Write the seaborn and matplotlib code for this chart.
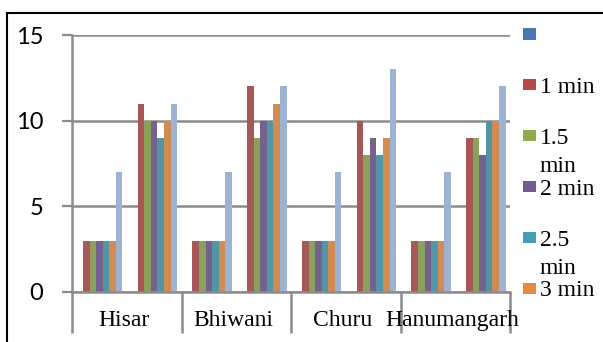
import matplotlib
matplotlib.use("Agg")
import matplotlib.pyplot as plt
import matplotlib.transforms as mtransforms
from matplotlib.patches import Rectangle
import seaborn as sns
import pandas as pd

# ---------------- data ----------------
categories = ["Hisar", "Bhiwani", "Churu", "Hanumangarh"]
slots = [0, 1, 2, 3, 4, 5, 6, 7]          # two sub-groups per category
series_ids = ["s0", "1 min", "1.5 min", "2 min", "2.5 min", "3 min", "s6"]
legend_labels = ["", "1 min", "1.5\nmin", "2 min", "2.5\nmin", "3 min"]
s0 = [0, 0, 0, 0, 0, 0, 0, 0]
s1 = [3, 11, 3, 12, 3, 10, 3, 9]
s15 = [3, 10, 3, 9, 3, 8, 3, 9]
s2 = [3, 10, 3, 10, 3, 9, 3, 8]
s25 = [3, 9, 3, 10, 3, 8, 3, 10]
s3 = [3, 10, 3, 11, 3, 9, 3, 10]
s6 = [7, 11, 7, 12, 7, 13, 7, 12]
yticks = [0, 5, 10, 15]

colors = ["#4A78B0", "#B54B48", "#8FAB50", "#745A95", "#449DB4", "#E68A3E", "#95B0D9"]

rows = []
for sid, vals in zip(series_ids, [s0, s1, s15, s2, s25, s3, s6]):
    for sl, v in zip(slots, vals):
        rows.append({"slot": sl, "series": sid, "value": v})
df = pd.DataFrame(rows)

# ---------------- figure ----------------
W, H = 603, 342
fig = plt.figure(figsize=(W / 100, H / 100), dpi=100)
fig.patch.set_facecolor("white")

def fx(px):
    return px / W

def fy(py):
    return 1 - py / H

left, right, top, bottom = 72, 510, 35, 292
ax = fig.add_axes([fx(left), fy(bottom), fx(right) - fx(left), fy(top) - fy(bottom)])

sns.barplot(data=df, x="slot", y="value", hue="series", hue_order=series_ids,
            palette=colors, width=0.84, linewidth=0, legend=False, ax=ax,
            errorbar=None)

ax.set_xlim(-0.5, 7.5)
ax.set_ylim(0, 15)
ax.set_xlabel("")
ax.set_ylabel("")
ax.set_xticks([])
ax.set_yticks(yticks)
ax.set_yticklabels([str(t) for t in yticks], family=["Lato", "DejaVu Sans"],
                   fontsize=17)
ax.tick_params(axis="y", direction="out", length=7.2, width=1.6,
               color="#8C8C8C", pad=13.5)
gray = "#8C8C8C"
ax.yaxis.grid(True, color=gray, linewidth=1.8)
ax.set_axisbelow(True)
for s in ["top", "right"]:
    ax.spines[s].set_visible(False)
ax.spines["left"].set_color(gray)
ax.spines["left"].set_linewidth(1.8)
ax.spines["bottom"].set_color(gray)
ax.spines["bottom"].set_linewidth(1.8)

# category dividers below the axis
trans = mtransforms.blended_transform_factory(ax.transData, ax.transAxes)
div_bottom = -(333 - bottom) / (bottom - top)
for xd in [-0.5, 1.5, 3.5, 5.5, 7.5]:
    ax.plot([xd, xd], [0, div_bottom], color=gray, linewidth=1.8,
            transform=trans, clip_on=False, solid_capstyle="butt")

# category labels
lab_y = -(326 - bottom) / (bottom - top)
for i, c in enumerate(categories):
    ax.text(2 * i + 0.5 - 0.05, lab_y, c, transform=trans, ha="center",
            va="baseline", fontsize=17, family="Liberation Serif",
            color="black")

# legend (manual, partially cut off like the reference)
for i, lab in enumerate(legend_labels):
    cy = 34 + 50.8 * i
    fig.add_artist(Rectangle((fx(523), fy(cy + 5.5)), fx(13) - fx(0), 11 / H,
                             transform=fig.transFigure, facecolor=colors[i],
                             edgecolor="none"))
    lines = lab.split("\n")
    for j, ln in enumerate(lines):
        if ln:
            fig.text(fx(540), fy(cy + 8.5 + 28 * j), ln, ha="left",
                     va="baseline", fontsize=17, family="Liberation Serif",
                     color="black")

# outer border (extends past figure right/bottom edges)
fig.add_artist(Rectangle((fx(7), fy(400)), 1.2, (400 - 13) / H,
                         transform=fig.transFigure, facecolor="none",
                         edgecolor="black", linewidth=1.5, clip_on=False))

fig.savefig("out.png", dpi=100)
